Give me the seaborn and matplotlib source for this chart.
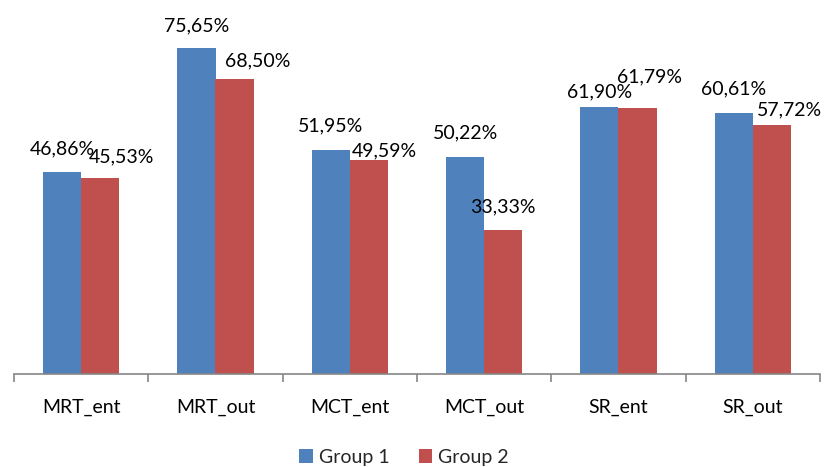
import matplotlib
matplotlib.use("Agg")
import matplotlib.pyplot as plt
import seaborn as sns
import pandas as pd
from matplotlib.ticker import FixedLocator

categories = ["MRT_ent", "MRT_out", "MCT_ent", "MCT_out", "SR_ent", "SR_out"]
group1 = [46.86, 75.65, 51.95, 50.22, 61.90, 60.61]
group2 = [45.53, 68.50, 49.59, 33.33, 61.79, 57.72]
groups = ["Group 1", "Group 2"]

# label placement tweaks (pixels), mimicking the reference layout
label_dx = [[0, 0, 0, 0, 0, 0], [21, 23, 15, 0, 12, 18]]
label_dy = [[23, 22, 24, 25, 15, 24], [21, 18, 9, 23, 31, 15]]

df = pd.DataFrame({
    "category": categories * 2,
    "value": group1 + group2,
    "group": [groups[0]] * len(categories) + [groups[1]] * len(categories),
})

sns.set_theme(style="white")
plt.rcParams["font.family"] = ["Lato", "DejaVu Sans"]

fig = plt.figure(figsize=(8.25, 4.67), dpi=100)
ax = fig.add_axes([14 / 825, 1 - 374 / 467, 806 / 825, 345 / 467])

sns.barplot(data=df, x="category", y="value", hue="group", order=categories,
            hue_order=groups, palette=["#4F81BD", "#C0504D"], width=0.567,
            saturation=1, ax=ax, edgecolor="none", linewidth=0)

ax.set_ylim(0, 80)
ax.set_xlim(-0.5, len(categories) - 0.5)
ax.set_xlabel("")
ax.set_ylabel("")
ax.set_yticks([])
for s in ["top", "right", "left"]:
    ax.spines[s].set_visible(False)
ax.spines["bottom"].set_color("#868686")
ax.spines["bottom"].set_linewidth(1.2)

ax.xaxis.set_minor_locator(FixedLocator([i - 0.5 for i in range(len(categories) + 1)]))
ax.tick_params(axis="x", which="major", length=0, pad=18, labelsize=14, colors="black")
ax.tick_params(axis="x", which="minor", length=6, width=1.2, color="#868686", direction="out", bottom=True)

for gi, cont in enumerate(ax.containers):
    for ci, bar in enumerate(cont):
        h = bar.get_height()
        x = bar.get_x() + bar.get_width() / 2
        txt = f"{h:.2f}%".replace(".", ",")
        ax.annotate(txt, xy=(x, h), xytext=(label_dx[gi][ci], label_dy[gi][ci]),
                    textcoords="offset pixels", ha="center", va="center",
                    fontsize=14, color="black", annotation_clip=False)

handles, labels = ax.get_legend_handles_labels()
ax.get_legend().remove()
fig.legend(handles, labels, loc="center", bbox_to_anchor=(404 / 825, 1 - 457 / 467),
           ncol=2, frameon=False, fontsize=14, handlelength=0.7, handleheight=0.7,
           handletextpad=0.3, columnspacing=1.5)

fig.savefig("out.png", dpi=100)
